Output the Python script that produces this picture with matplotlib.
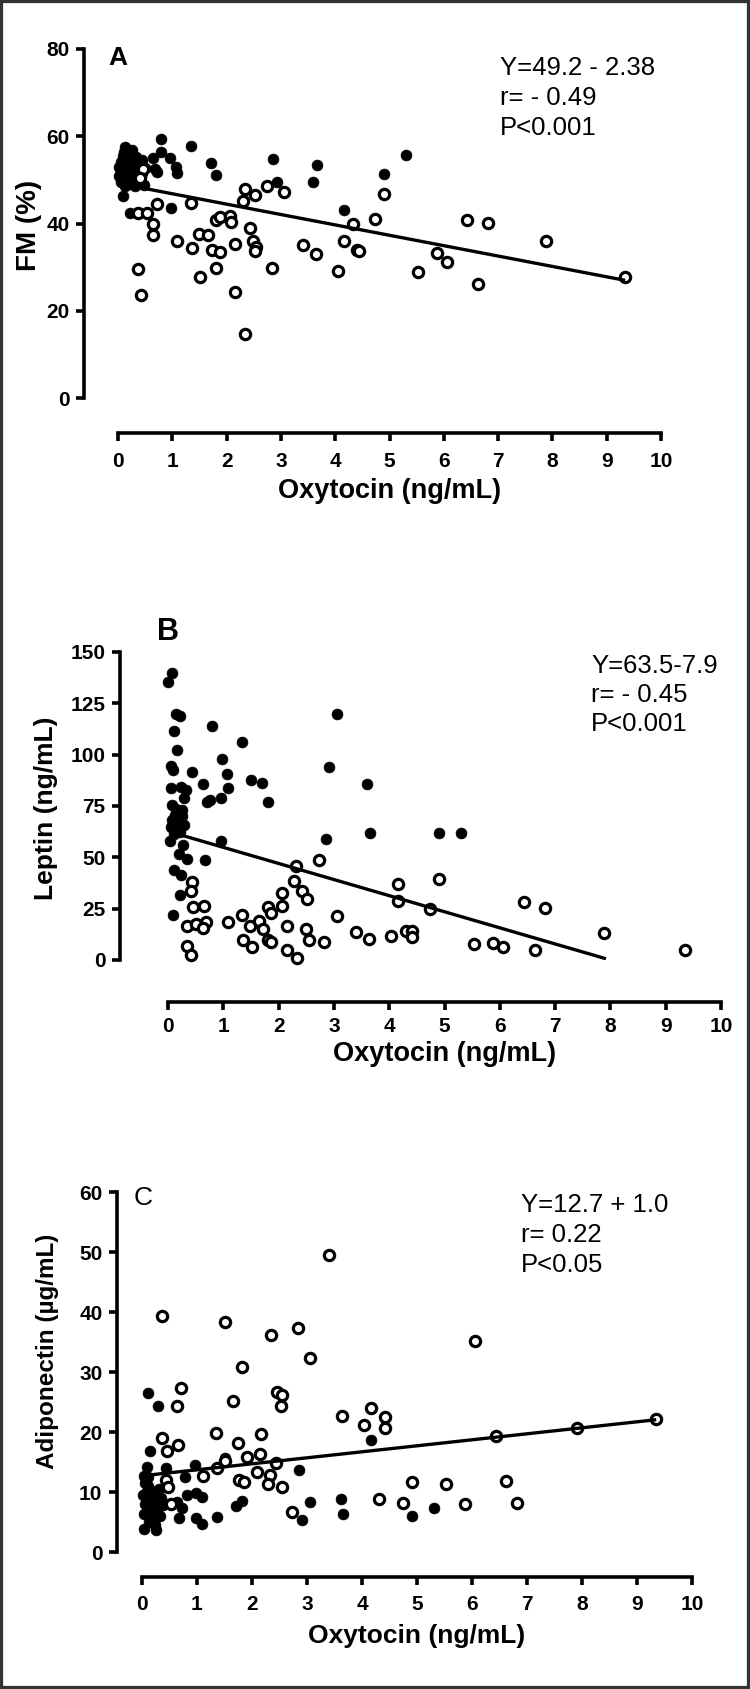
import matplotlib
matplotlib.use('Agg')
import matplotlib.pyplot as plt
from matplotlib.patches import Rectangle

plt.rcParams['font.family'] = ['Liberation Sans', 'DejaVu Sans']

W, H, DPI = 750, 1689, 100

# ---------------- data ----------------
XTICKS = list(range(0, 11))

# A: fat mass (%)
FM_FILLED_X = [0.02, 0.04, 0.05, 0.06, 0.08, 0.09, 0.10, 0.11, 0.13, 0.14, 0.15, 0.16, 0.18, 0.20, 0.21,
               0.23, 0.25, 0.26, 0.28, 0.30, 0.32, 0.34, 0.36, 0.40, 0.44, 0.47, 0.50, 0.12, 0.02,
               0.09, 0.22, 0.64, 0.68, 0.72, 0.79, 0.80, 0.96, 1.07, 1.08, 0.97, 1.34, 1.71, 1.80,
               2.85, 2.92, 3.60, 3.66, 4.16, 4.89, 5.31]
FM_FILLED_Y = [50.8, 52.5, 54.0, 49.5, 51.5, 53.2, 55.5, 56.5, 57.5, 50.0, 52.0, 54.2, 53.0, 49.0, 51.0,
               55.0, 56.8, 52.5, 50.2, 54.0, 48.6, 55.3, 51.8, 53.5, 54.6, 48.8, 52.8, 48.5, 53.0,
               46.2, 42.5, 55.0, 52.4, 51.8, 56.5, 59.3, 55.0, 53.0, 51.5, 43.6, 57.8, 53.9, 51.2,
               54.7, 49.6, 49.6, 53.4, 43.0, 51.4, 55.6]
FM_OPEN_X = [0.37, 0.53, 0.71, 0.64, 0.64, 0.37, 0.42, 1.34, 1.09, 1.36, 1.50, 1.65, 1.51, 1.73, 1.87,
             1.80, 1.88, 2.07, 2.08, 1.80, 2.15, 2.15, 2.33, 2.30, 2.53, 2.44, 2.48, 2.55, 2.53, 2.33,
             2.74, 3.05, 2.84, 3.40, 3.65, 4.05, 4.16, 4.32, 4.41, 4.43, 4.74, 4.89, 5.53, 5.87, 6.06,
             6.43, 6.63, 6.82, 7.88, 9.34, 0.42, 0.46, 0.40]
FM_OPEN_Y = [42.3, 42.5, 44.5, 40.0, 37.4, 29.5, 23.7, 44.6, 35.9, 34.4, 37.7, 37.3, 27.8, 34.0, 33.4,
             40.9, 41.4, 41.8, 40.4, 29.7, 35.3, 24.4, 47.9, 45.1, 46.5, 38.9, 36.0, 34.7, 33.6, 14.7,
             48.7, 47.2, 29.9, 35.1, 33.1, 29.0, 35.9, 39.9, 33.9, 33.6, 41.1, 46.8, 28.9, 33.2, 31.2,
             40.8, 26.1, 40.1, 35.9, 27.7, 51.6, 52.4, 50.4]
FM_FIT = (49.2, -2.38)
FM_FIT_X = (0.35, 9.34)
FM_TEXT = ['Y=49.2 - 2.38', 'r= - 0.49', 'P<0.001']

# B: leptin (ng/mL)
LEP_FILLED_X = [0.00, 0.07, 0.14, 0.22, 0.11, 0.16, 0.05, 0.09, 0.05, 0.24, 0.33, 0.29, 0.07, 0.26, 0.07,
                0.20, 0.05, 0.16, 0.29, 0.03, 0.27, 0.20, 0.35, 0.67, 0.11, 0.24, 0.21, 0.09, 0.43, 0.63,
                0.80, 0.76, 0.70, 0.95, 0.98, 1.06, 1.08, 0.95, 1.34, 1.50, 1.70, 1.80, 3.05, 2.91, 2.85,
                3.60, 3.66, 4.90, 5.30, 0.12, 0.18, 0.22, 0.10, 0.25, 0.14]
LEP_FILLED_Y = [135.6, 139.9, 119.9, 118.7, 111.7, 102.5, 94.7, 92.6, 83.9, 84.2, 82.7, 78.7, 75.7, 72.9, 68.2,
                68.2, 64.7, 64.7, 65.6, 57.8, 56.0, 51.7, 49.1, 48.7, 43.9, 41.2, 31.7, 21.8, 91.7, 85.6,
                113.8, 77.8, 76.9, 79.0, 97.8, 90.8, 83.9, 57.8, 106.0, 87.9, 86.0, 76.9, 119.9, 93.8, 59.0,
                85.6, 61.8, 61.8, 61.8, 70.5, 66.5, 62.5, 61.5, 70.0, 73.5]
LEP_OPEN_X = [0.44, 0.42, 0.46, 0.35, 0.50, 0.35, 0.42, 0.65, 0.69, 0.63, 1.08, 1.34, 1.35, 1.48, 1.51,
              1.65, 1.71, 1.80, 1.87, 1.80, 1.87, 2.06, 2.06, 2.15, 2.15, 2.28, 2.32, 2.34, 2.42, 2.51,
              2.49, 2.55, 2.73, 2.82, 3.05, 3.40, 3.63, 4.03, 4.16, 4.16, 4.31, 4.41, 4.41, 4.74, 4.90,
              5.54, 5.88, 6.05, 6.44, 6.63, 6.82, 7.88, 9.35]
LEP_OPEN_Y = [37.8, 33.4, 25.9, 16.5, 17.7, 7.0, 2.6, 26.4, 18.6, 15.7, 18.3, 22.1, 9.9, 16.5, 6.1,
              19.1, 15.1, 25.6, 23.0, 9.9, 9.0, 32.5, 26.1, 16.5, 4.7, 38.6, 45.9, 1.2, 33.4, 29.9,
              15.1, 9.9, 48.5, 9.0, 21.2, 13.4, 10.4, 11.7, 36.9, 28.5, 13.9, 13.9, 11.3, 24.7, 39.5,
              7.7, 8.2, 6.4, 28.2, 5.0, 25.2, 13.1, 5.0]
LEP_FIT = (62.7, -7.84)
LEP_FIT_X = (0.07, 7.92)
LEP_TEXT = ['Y=63.5-7.9', 'r= - 0.45', 'P<0.001']

# C: adiponectin (ug/mL)
ADI_FILLED_X = [0.10, 0.29, 0.14, 0.03, 0.09, 0.44, 0.78, 0.96, 0.81, 0.98, 1.09, 0.68, 0.98, 1.09, 0.72,
                0.63, 1.36, 1.50, 1.70, 1.81, 2.85, 3.05, 2.91, 3.61, 3.66, 4.16, 4.90, 5.30, 0.03, 0.26,
                0.02, 0.05, 0.07, 0.10, 0.12, 0.15, 0.18, 0.20, 0.22, 0.25, 0.28, 0.30, 0.33, 0.35, 0.05,
                0.13, 0.24, 0.08, 0.18, 0.38, 0.11, 0.03]
ADI_FILLED_Y = [26.5, 24.4, 16.9, 12.6, 14.2, 14.0, 12.5, 14.5, 9.5, 9.8, 9.2, 5.6, 5.6, 4.7, 7.3,
                8.4, 5.8, 15.6, 7.7, 8.5, 13.7, 8.4, 5.3, 8.9, 6.4, 18.7, 6.0, 7.3, 3.9, 3.6,
                9.5, 8.0, 6.5, 11.0, 9.0, 7.5, 10.2, 5.5, 8.6, 9.8, 7.0, 10.5, 6.0, 9.0, 11.5,
                5.0, 4.5, 9.8, 6.8, 7.8, 12.5, 6.3]
ADI_OPEN_X = [3.40, 0.37, 1.50, 2.34, 2.83, 3.05, 1.81, 6.05, 0.70, 2.46, 2.55, 1.66, 0.63, 2.52, 3.63,
              4.17, 4.04, 4.42, 4.42, 0.37, 0.65, 0.46, 1.35, 1.74, 2.16, 2.14, 1.90, 1.50, 1.37, 2.43,
              2.09, 2.33, 1.77, 1.85, 2.29, 2.55, 1.11, 0.44, 0.48, 0.52, 2.72, 4.30, 4.74, 4.90, 5.53,
              5.88, 6.62, 6.81, 6.43, 7.90, 9.35]
ADI_OPEN_Y = [49.5, 39.3, 38.4, 36.2, 37.3, 32.4, 30.9, 35.2, 27.4, 26.7, 26.2, 25.1, 24.4, 24.4, 22.7,
              24.0, 21.1, 22.5, 20.7, 19.0, 17.9, 16.9, 19.8, 18.2, 19.6, 16.3, 15.8, 15.1, 14.0, 14.8,
              13.4, 12.8, 12.0, 11.6, 11.3, 10.9, 12.7, 12.0, 10.8, 8.0, 6.7, 8.8, 8.1, 11.6, 11.3,
              8.0, 11.9, 8.2, 19.3, 20.7, 22.1]
ADI_FIT = (12.7, 1.0)
ADI_FIT_X = (0.05, 9.35)
ADI_TEXT = ['Y=12.7 + 1.0', 'r= 0.22', 'P<0.05']


def fpos(x, y):
    # pixel position -> figure fraction
    return x / W, 1 - y / H


def panel(fig, box, spine_x, axis_y, yticks, xo, yo, xf, yf, fit, fit_x, xpad):
    x0, x10, ytop, y0 = box
    ax = fig.add_axes([x0 / W, 1 - y0 / H, (x10 - x0) / W, (y0 - ytop) / H])
    ax.set_xlim(0, 10)
    ax.set_ylim(0, yticks[-1])
    ax.set_xticks(XTICKS)
    ax.set_yticks(yticks)
    for s in ('top', 'right'):
        ax.spines[s].set_visible(False)
    ax.spines['left'].set_position(('outward', (x0 - spine_x) * 72 / DPI))
    ax.spines['bottom'].set_position(('outward', (axis_y - y0) * 72 / DPI))
    for s in ('left', 'bottom'):
        ax.spines[s].set_linewidth(2.6)
    ax.tick_params(direction='out', length=6, width=2.6, labelsize=15)
    ax.tick_params(axis='x', pad=xpad)
    ax.tick_params(axis='y', pad=4.5)
    for lbl in ax.get_xticklabels() + ax.get_yticklabels():
        lbl.set_fontweight('bold')
    ax.patch.set_alpha(0)

    ax.plot(xf, yf, 'o', ms=7.8, mfc='black', mec='black', mew=0.5, ls='none',
            clip_on=False, zorder=3)
    ax.plot(xo, yo, 'o', ms=7.4, mfc='white', mec='black', mew=2.3, ls='none',
            clip_on=False, zorder=4)
    lx = list(fit_x)
    ly = [fit[0] + fit[1] * v for v in lx]
    ax.plot(lx, ly, '-', color='black', lw=2.4, zorder=5, solid_capstyle='butt')
    return ax


fig = plt.figure(figsize=(W / DPI, H / DPI), dpi=DPI)

# ---- A ----
panel(fig, (118, 661, 49, 398), 84, 433, [0, 20, 40, 60, 80],
      FM_OPEN_X, FM_OPEN_Y, FM_FILLED_X, FM_FILLED_Y, FM_FIT, FM_FIT_X, 7.5)
fig.text(*fpos(108, 58), 'A', fontsize=19, fontweight='bold', va='center', ha='left')
for i, s in enumerate(FM_TEXT):
    fig.text(*fpos(500, 68 + 30 * i), s, fontsize=18.5, va='center', ha='left')
fig.text(*fpos(390, 491), 'Oxytocin (ng/mL)', fontsize=19.5, fontweight='bold', ha='center', va='center')
fig.text(*fpos(29, 225), 'FM (%)', fontsize=20, fontweight='bold', rotation=90, ha='center', va='center')

# ---- B ----
panel(fig, (168, 721, 652, 960), 120, 1002, [0, 25, 50, 75, 100, 125, 150],
      LEP_OPEN_X, LEP_OPEN_Y, LEP_FILLED_X, LEP_FILLED_Y, LEP_FIT, LEP_FIT_X, 5)
fig.text(*fpos(157, 632), 'B', fontsize=22, fontweight='bold', va='center', ha='left')
for i, s in enumerate(LEP_TEXT):
    fig.text(*fpos(591, 666 + 29 * i), s, fontsize=18.5, va='center', ha='left')
fig.text(*fpos(445, 1054), 'Oxytocin (ng/mL)', fontsize=19.5, fontweight='bold', ha='center', va='center')
fig.text(*fpos(46, 808), 'Leptin (ng/mL)', fontsize=19, fontweight='bold', rotation=90, ha='center', va='center')

# ---- C ----
panel(fig, (142, 692, 1192, 1552), 117, 1577, [0, 10, 20, 30, 40, 50, 60],
      ADI_OPEN_X, ADI_OPEN_Y, ADI_FILLED_X, ADI_FILLED_Y, ADI_FIT, ADI_FIT_X, 7)
fig.text(*fpos(134, 1198), 'C', fontsize=19, va='center', ha='left')
for i, s in enumerate(ADI_TEXT):
    fig.text(*fpos(521, 1205 + 30 * i), s, fontsize=18.5, va='center', ha='left')
fig.text(*fpos(417, 1636), 'Oxytocin (ng/mL)', fontsize=19, fontweight='bold', ha='center', va='center')
fig.text(*fpos(48, 1351), 'Adiponectin (\u00b5g/mL)', fontsize=17.5, fontweight='bold', rotation=90,
         ha='center', va='center')

# outer frame
fig.patches.append(Rectangle((0, 0), 1, 1, transform=fig.transFigure, fill=False,
                             lw=4.5, ec='#333333', zorder=10))

fig.savefig('out.png', dpi=DPI)
